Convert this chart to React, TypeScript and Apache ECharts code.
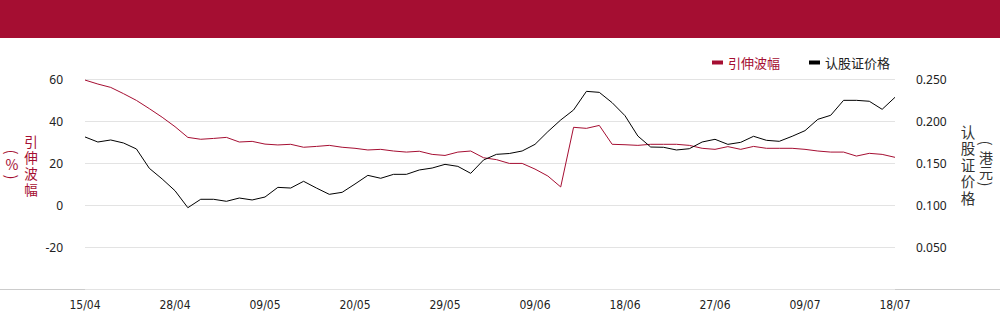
import React, { useEffect, useRef } from "react";
import * as echarts from "echarts";

const dates = [
  "15/04", "16/04", "17/04", "22/04", "23/04", "24/04", "25/04", "28/04", "29/04", "30/04",
  "02/05", "06/05", "07/05", "08/05", "09/05", "12/05", "13/05", "14/05", "15/05", "16/05",
  "19/05", "20/05", "21/05", "22/05", "23/05", "26/05", "27/05", "28/05", "29/05", "30/05",
  "02/06", "03/06", "04/06", "05/06", "06/06", "09/06", "10/06", "11/06", "12/06", "13/06",
  "16/06", "17/06", "18/06", "19/06", "20/06", "23/06", "24/06", "25/06", "26/06", "27/06",
  "30/06", "02/07", "03/07", "04/07", "07/07", "08/07", "09/07", "10/07", "11/07", "14/07",
  "15/07", "16/07", "17/07", "18/07",
];

const impliedVol = [
  59.5, 57.6, 56.0, 53.0, 49.8, 45.9, 41.8, 37.3, 32.2, 31.3,
  31.7, 32.2, 30.0, 30.3, 29.0, 28.6, 28.9, 27.5, 27.9, 28.4,
  27.5, 27.0, 26.2, 26.5, 25.7, 25.2, 25.6, 24.1, 23.6, 25.2,
  25.7, 22.5, 21.6, 19.8, 19.8, 17.1, 13.8, 8.6, 37.0, 36.5,
  37.9, 28.9, 28.7, 28.4, 28.9, 28.9, 28.9, 28.4, 27.0, 26.5,
  27.8, 26.5, 27.9, 27.0, 27.0, 27.0, 26.5, 25.7, 25.2, 25.2,
  23.3, 24.6, 24.1, 22.7,
];

const warrantPrice = [
  0.181, 0.175, 0.1774, 0.1738, 0.1667, 0.1437, 0.131, 0.117, 0.0968, 0.1068,
  0.1068, 0.1044, 0.1083, 0.106, 0.1095, 0.121, 0.1202, 0.1282, 0.1202, 0.1127,
  0.1151, 0.125, 0.1353, 0.1318, 0.1365, 0.1365, 0.1417, 0.144, 0.1484, 0.146,
  0.1377, 0.1536, 0.1603, 0.1613, 0.1643, 0.1722, 0.1873, 0.2012, 0.2131, 0.2353,
  0.2341, 0.2218, 0.2063, 0.1821, 0.169, 0.1687, 0.1655, 0.167, 0.175, 0.1782,
  0.1722, 0.1746, 0.1818, 0.177, 0.1758, 0.1818, 0.1885, 0.202, 0.2068, 0.2246,
  0.2246, 0.2235, 0.2139, 0.2282,
];

const seriesNames = ["引伸波幅", "认股证价格"];
const leftAxisTitle = ["引", "伸", "波", "幅"];
const leftAxisUnit = "%";
const rightAxisTitle = ["认", "股", "证", "价", "格"];
const rightAxisUnit = ["港", "元"];

const RED = "#A50E32";
const FONT = "'Noto Sans CJK SC', 'Noto Sans', sans-serif";

function colText(chars: string[], x: number, yCenter: number, pitch: number, size: number, fill: string) {
  return {
    type: "text",
    x,
    y: yCenter,
    style: {
      text: chars.join("\n"), fill, font: `${size}px ${FONT}`, align: "center", verticalAlign: "middle",
      lineHeight: pitch,
    },
  };
}

function paren(open: boolean, x: number, y: number, size: number, fill: string) {
  return {
    type: "text",
    x,
    y,
    rotation: -Math.PI / 2,
    style: {
      text: open ? "(" : ")", fill, font: `${size}px ${FONT}`, align: "center", verticalAlign: "middle",
      lineHeight: 8,
    },
  };
}

export default function App() {
  const ref = useRef<HTMLDivElement>(null);

  useEffect(() => {
    document.body.style.margin = "0";
    if (!ref.current) return;
    const chart = echarts.init(ref.current, undefined, { renderer: "svg" });
    chart.setOption({
      animation: false,
      backgroundColor: "#fff",
      textStyle: { fontFamily: FONT },
      graphic: [
        { type: "rect", shape: { x: 0, y: 0, width: 1000, height: 38 }, style: { fill: RED } },
        { type: "line", shape: { x1: 0, y1: 289.5, x2: 1000, y2: 289.5 }, style: { stroke: "#cccccc", lineWidth: 1 } },
        paren(true, 12, 152, 15, RED),
        {
          type: "text", x: 12, y: 164,
          style: { text: leftAxisUnit, fill: RED, font: `14px ${FONT}`, align: "center", verticalAlign: "middle", lineHeight: 12 },
        },
        paren(false, 12, 177, 15, RED),
        colText(leftAxisTitle, 31, 165, 16, 13.5, RED),
        colText(rightAxisTitle, 968, 164, 16.5, 14.5, "#333"),
        paren(true, 986, 143, 15, "#333"),
        colText(rightAxisUnit, 986, 164.5, 15.5, 14, "#333"),
        paren(false, 986, 184, 15, "#333"),
      ],
      legend: {
        right: 105,
        top: 51,
        itemWidth: 11,
        itemHeight: 4,
        itemGap: 29,
        icon: "rect",
        textStyle: { fontSize: 13, fontFamily: FONT },
        data: [
          { name: seriesNames[0], textStyle: { color: RED } },
          { name: seriesNames[1], textStyle: { color: "#222" } },
        ],
      },
      grid: { left: 85, right: 105, top: 79, bottom: 35, containLabel: false },
      xAxis: {
        type: "category",
        data: dates,
        boundaryGap: false,
        axisLine: { show: false },
        axisTick: { show: false },
        axisLabel: { interval: 6, color: "#222", fontSize: 12, margin: 10, fontFamily: "'DejaVu Sans Condensed', 'Liberation Sans Narrow', sans-serif" },
        splitLine: { show: false },
      },
      yAxis: [
        {
          type: "value",
          min: -40,
          max: 60,
          interval: 20,
          axisLine: { show: false },
          axisTick: { show: false },
          axisLabel: {
            color: "#222",
            fontSize: 12,
            margin: 22,
            fontFamily: "'Noto Sans', sans-serif",
            formatter: (v: number) => (v === -40 ? "" : String(v)),
          },
          splitLine: { lineStyle: { color: "#e3e3e3" } },
        },
        {
          type: "value",
          min: 0,
          max: 0.25,
          interval: 0.05,
          axisLine: { show: false },
          axisTick: { show: false },
          axisLabel: {
            color: "#222",
            fontSize: 12,
            margin: 21,
            fontFamily: "'Noto Sans', sans-serif",
            formatter: (v: number) => (v === 0 ? "" : v.toFixed(3)),
          },
          splitLine: { show: false },
        },
      ],
      series: [
        {
          name: seriesNames[0],
          type: "line",
          yAxisIndex: 0,
          data: impliedVol,
          showSymbol: false,
          symbol: "none",
          color: RED,
          lineStyle: { width: 1, color: RED },
        },
        {
          name: seriesNames[1],
          type: "line",
          yAxisIndex: 1,
          data: warrantPrice,
          showSymbol: false,
          symbol: "none",
          color: "#000",
          lineStyle: { width: 1, color: "#000" },
        },
      ],
    });
    return () => chart.dispose();
  }, []);

  return <div ref={ref} style={{ width: 1000, height: 324 }} />;
}
